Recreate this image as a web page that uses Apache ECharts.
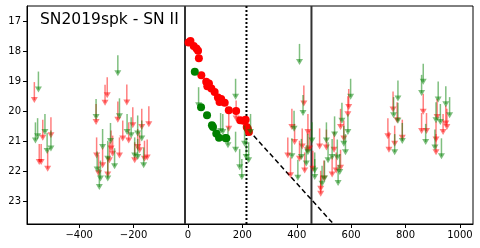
<!DOCTYPE html>
<html>
<head>
<meta charset="utf-8">
<script src="https://cdn.jsdelivr.net/npm/echarts@6/dist/echarts.min.js"></script>
<style>
html, body { margin: 0; padding: 0; background: #fff; }
#main { width: 480px; height: 248px; }
</style>
</head>
<body>
<div id="main"></div>
<script>
// detections (days, mag)
var detRed = [[2,17.71],[9,17.66],[21,17.83],[31,17.91],[37,17.99],[40,18.24],[49,18.8],[67,19.02],[71,19.17],[77,19.08],[86,19.24],[98,19.36],[110,19.54],[116,19.69],[122,19.59],[135,19.72],[150,19.97],[177,19.99],[192,20.3],[204,20.32],[212,20.28],[216,20.52],[220,20.58],[224,20.69]];
var detGreen = [[25,18.69],[48,19.87],[70,20.13],[88,20.47],[92,20.52],[104,20.74],[114,20.88],[138,20.89],[141,20.9]];

// upper limits (days, mag)
var limRed = [
  [-565,19.63],[-534,20.88],[-504,20.8],[-547,21.69],[-540,21.69],[-516,21.91],
  [-297,19.47],[-305,19.72],[-225,19.71],[-338,20.36],[-258,20.28],[-203,20.47],[-240,20.91],[-218,20.97],[-170,20.52],[-144,20.43],[-185,21.19],[-283,21.24],[-277,21.41],[-252,21.47],[-336,21.47],[-289,21.63],[-314,21.8],[-329,22.06],[-295,22.1],[-196,21.63],[-178,21.3],[-160,21.58],[-150,21.54],
  [150,20.58],[177,20.24],
  [426,19.74],[382,20.52],[441,20.69],[392,21.02],[420,21.17],[439,21.3],[367,21.47],[410,21.58],[429,21.97],[377,22.13],[459,21.91],[484,21.17],[509,21.21],[537,21.28],[530,22.1],[545,21.97],[561,21.88],[561,20.52],[573,20.91],[588,20.1],[591,19.86],[488,22.58],[488,22.74],[500,22.24],[447,21.24],
  [754,19.94],[769,20.3],[735,20.83],[760,21.08],[788,20.88],[739,21.28],[865,20.02],[859,20.66],[877,20.66],[916,20.19],[948,20.41],[952,20.52],[938,20.69],[912,20.94],[912,21.36]
];
var limGreen = [
  [-550,19.28],[-561,20.97],[-553,20.83],[-526,20.69],[-518,21.32],[-504,21.24],
  [-258,18.74],[-338,20.19],[-252,20.17],[-224,20.69],[-209,20.8],[-185,20.74],[-170,20.91],[-314,21.19],[-285,20.99],[-295,21.58],[-270,21.83],[-334,21.94],[-322,22.24],[-295,22.24],[-326,22.52],[-196,21.47],[-185,21.52],[-163,21.8],
  [39,19.8],[175,19.52],[120,20.66],[128,20.69],[147,21.13],[175,21.28],[208,21.08],[230,20.69],[214,21.52],[223,21.63],[190,21.86],[198,22.19],
  [410,18.36],[423,20.06],[390,20.58],[456,20.97],[382,21.5],[417,21.52],[435,21.74],[404,22.21],[466,22.19],[509,20.97],[539,20.77],[515,21.63],[530,21.52],[549,21.54],[558,22.02],[552,22.39],[566,20.32],[573,21.08],[579,21.36],[588,20.69],[598,19.52],[493,22.41],[441,21.36],[466,21.97],[502,22.24],
  [772,19.58],[756,20.13],[772,20.32],[788,20.99],[760,21.36],[865,19.02],[859,19.39],[874,21.02],[920,19.61],[948,19.77],[962,20.13],[912,20.3],[928,20.36],[908,21.21],[932,21.5]
];

// reference lines
var vSolid = [-11, 454];
var vDotted = [215];
var declineLine = [[222, 20.62], [560, 24.0]];

var xTicks = [-400, -200, 0, 200, 400, 600, 800, 1000];
var yTicks = [17, 18, 19, 20, 21, 22, 23];
var xMin = -592, xMax = 1048;
var yMin = 16.5, yMax = 23.75;
var arrowLen = 0.6;

var myChart = echarts.init(document.getElementById('main'));

function arrowSeries(data, color) {
  return {
    type: 'custom',
    data: data,
    z: 5,
    renderItem: function (params, api) {
      var x = api.value(0), y = api.value(1);
      var bot = api.coord([x, y]);
      var top = api.coord([x, y - arrowLen]);
      return {
        type: 'group',
        children: [{
          type: 'line',
          shape: { x1: bot[0], y1: top[1], x2: bot[0], y2: bot[1] },
          style: { stroke: color, lineWidth: 1.5 }
        }, {
          type: 'polygon',
          shape: { points: [[bot[0] - 3.5, bot[1] - 3], [bot[0] + 3.5, bot[1] - 3], [bot[0], bot[1] + 3]] },
          style: { fill: color }
        }]
      };
    }
  };
}

function vline(x, type) {
  return {
    type: 'line',
    data: [[x, yMin], [x, yMax]],
    symbol: 'none',
    silent: true,
    z: 3,
    lineStyle: type === 'dotted'
      ? { color: '#000', width: 2, type: [2, 2] }
      : { color: '#333', width: 2 }
  };
}

var series = [];
vSolid.forEach(function (x) { series.push(vline(x, 'solid')); });
vDotted.forEach(function (x) { series.push(vline(x, 'dotted')); });
series.push({
  type: 'line',
  data: declineLine,
  symbol: 'none',
  clip: true,
  z: 3,
  lineStyle: { color: '#000', width: 1.5, type: [5, 3] }
});
series.push({
  type: 'scatter', data: detRed, symbolSize: 8, z: 4,
  itemStyle: { color: '#ff0000', opacity: 1 }
});
series.push({
  type: 'scatter', data: detGreen, symbolSize: 8, z: 4,
  itemStyle: { color: '#008000', opacity: 1 }
});
series.push(arrowSeries(limRed, 'rgba(255,0,0,0.5)'));
series.push(arrowSeries(limGreen, 'rgba(0,128,0,0.5)'));

var option = {
  backgroundColor: '#fff',
  animation: false,
  title: {
    text: 'SN2019spk - SN II',
    left: 40,
    top: 12,
    padding: 0,
    textStyle: { fontFamily: 'DejaVu Sans', fontSize: 15.5, fontWeight: 'normal', color: '#000' }
  },
  grid: {
    left: 27, right: 7, top: 6, bottom: 24,
    show: true, borderColor: '#000', borderWidth: 1
  },
  xAxis: {
    type: 'value',
    min: xMin, max: xMax,
    splitLine: { show: false },
    axisLine: { show: true, onZero: false, lineStyle: { color: '#000' } },
    axisTick: { show: true, length: 4, customValues: xTicks, lineStyle: { color: '#000' } },
    axisLabel: {
      customValues: xTicks,
      color: '#000', fontFamily: 'DejaVu Sans', fontSize: 10, margin: 6,
      formatter: function (v) { return String(v).replace('-', '\u2212'); }
    }
  },
  yAxis: {
    type: 'value',
    inverse: true,
    min: yMin, max: yMax,
    splitLine: { show: false },
    axisLine: { show: true, onZero: false, lineStyle: { color: '#000' } },
    axisTick: { show: true, length: 4, customValues: yTicks, lineStyle: { color: '#000' } },
    axisLabel: {
      customValues: yTicks,
      color: '#000', fontFamily: 'DejaVu Sans', fontSize: 10, margin: 6
    }
  },
  series: series
};

myChart.setOption(option);
</script>
</body>
</html>
